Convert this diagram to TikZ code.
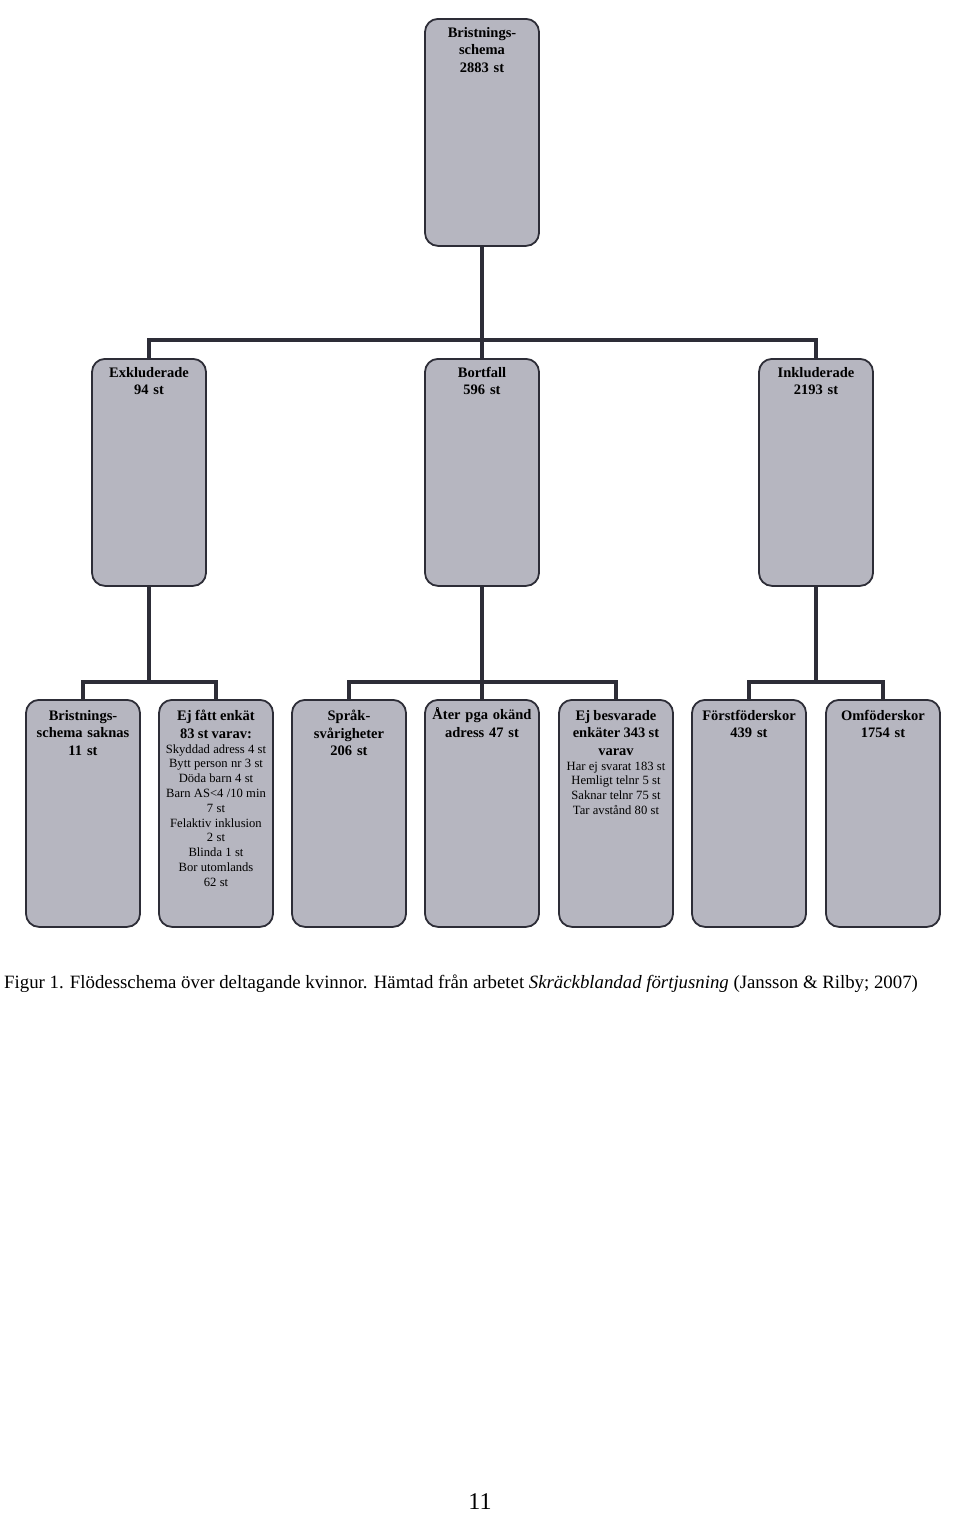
\documentclass[tikz,border=0pt]{standalone}
\usepackage{fontspec}
\setmainfont{Liberation Serif}
\definecolor{boxfill}{RGB}{182,182,192}
\definecolor{boxline}{RGB}{45,45,55}
\begin{document}
\begin{tikzpicture}[x=1pt,y=-1pt,
  box/.style={draw=boxline,line width=1.8pt,fill=boxfill,rounded corners=13pt,
    minimum width=114pt,minimum height=227pt,anchor=north,inner sep=0pt},
  txt/.style={anchor=north,align=center,text width=112pt,inner sep=0pt},
  hd/.style={font=\fontsize{14.5}{17.5}\selectfont\bfseries},
  conn/.style={draw=boxline,line width=3.5pt,line cap=rect}]
\useasboundingbox (0,0) rectangle (960,1513);
% junction points
\coordinate (j1) at (482,340);
\coordinate (j1l) at (149,340);
\coordinate (j1r) at (816,340);
\coordinate (j2) at (149,682);
\coordinate (j2l) at (83,682);
\coordinate (j2r) at (216,682);
\coordinate (j3) at (482,682);
\coordinate (j3l) at (349,682);
\coordinate (j3r) at (616,682);
\coordinate (j4) at (816,682);
\coordinate (j4l) at (749,682);
\coordinate (j4r) at (883,682);
% boxes
\node[box] (top) at (482,18) {};
\node[box] (exk) at (149,358) {};
\node[box] (bor) at (482,358) {};
\node[box] (ink) at (816,358) {};
\node[box] (b1) at (83,699) {};
\node[box] (b2) at (216,699) {};
\node[box] (b3) at (349,699) {};
\node[box] (b4) at (482,699) {};
\node[box] (b5) at (616,699) {};
\node[box] (b6) at (749,699) {};
\node[box] (b7) at (883,699) {};
% connectors
\draw[conn] (top.south) -- (j1);
\draw[conn] (j1l) -- (j1r);
\draw[conn] (j1l) -- (exk.north);
\draw[conn] (j1) -- (bor.north);
\draw[conn] (j1r) -- (ink.north);
\draw[conn] (exk.south) -- (j2);
\draw[conn] (j2l) -- (j2r);
\draw[conn] (j2l) -- (b1.north);
\draw[conn] (j2r) -- (b2.north);
\draw[conn] (bor.south) -- (j3);
\draw[conn] (j3l) -- (j3r);
\draw[conn] (j3l) -- (b3.north);
\draw[conn] (j3) -- (b4.north);
\draw[conn] (j3r) -- (b5.north);
\draw[conn] (ink.south) -- (j4);
\draw[conn] (j4l) -- (j4r);
\draw[conn] (j4l) -- (b6.north);
\draw[conn] (j4r) -- (b7.north);
% texts
\node[txt,hd] (ttop) at ([yshift=-9pt]top.north) {Bristnings-\\schema\\2883 st};
\node[txt,hd] (texk) at ([yshift=-9pt]exk.north) {Exkluderade\\94 st};
\node[txt,hd] (tbor) at ([yshift=-9pt]bor.north) {Bortfall\\596 st};
\node[txt,hd] (tink) at ([yshift=-9pt]ink.north) {Inkluderade\\2193 st};
\node[txt,hd] (tb1) at ([yshift=-11pt]b1.north) {Bristnings-\\schema saknas\\11 st};
\node[txt] (tb2) at ([yshift=-11pt]b2.north) {{\fontsize{14.5}{17.5}\selectfont\bfseries Ej fått enkät\\83 st varav:\par}
  {\fontsize{12.6}{14.8}\selectfont Skyddad adress 4 st\\Bytt person nr 3 st\\Döda barn 4 st\\Barn AS<4 /10 min\\7 st\\Felaktiv inklusion\\2 st\\Blinda 1 st\\Bor utomlands\\62 st\par}};
\node[txt,hd] (tb3) at ([yshift=-11pt]b3.north) {Språk-\\svårigheter\\206 st};
\node[txt,hd] (tb4) at ([yshift=-8.5pt]b4.north) {Åter pga okänd\\adress 47 st};
\node[txt] (tb5) at ([yshift=-11pt]b5.north) {{\fontsize{14.5}{17.5}\selectfont\bfseries Ej besvarade\\enkäter 343 st\\varav\par}
  {\fontsize{12.6}{14.8}\selectfont Har ej svarat 183 st\\Hemligt telnr 5 st\\Saknar telnr 75 st\\Tar avstånd 80 st\par}};
\node[txt,hd] (tb6) at ([yshift=-11pt]b6.north) {Förstföderskor\\439 st};
\node[txt,hd] (tb7) at ([yshift=-11pt]b7.north) {Omföderskor\\1754 st};
% caption
\node[anchor=west,inner sep=0pt,font=\fontsize{18.8}{22}\selectfont] (cap) at (4,984)
  {Figur 1. Flödesschema över deltagande kvinnor. Hämtad från arbetet \textit{Skräckblandad förtjusning} (Jansson \& Rilby; 2007)};
\node[inner sep=0pt,font=\fontsize{24}{28}\selectfont] (pg) at (480,1502) {11};
\end{tikzpicture}
\end{document}
